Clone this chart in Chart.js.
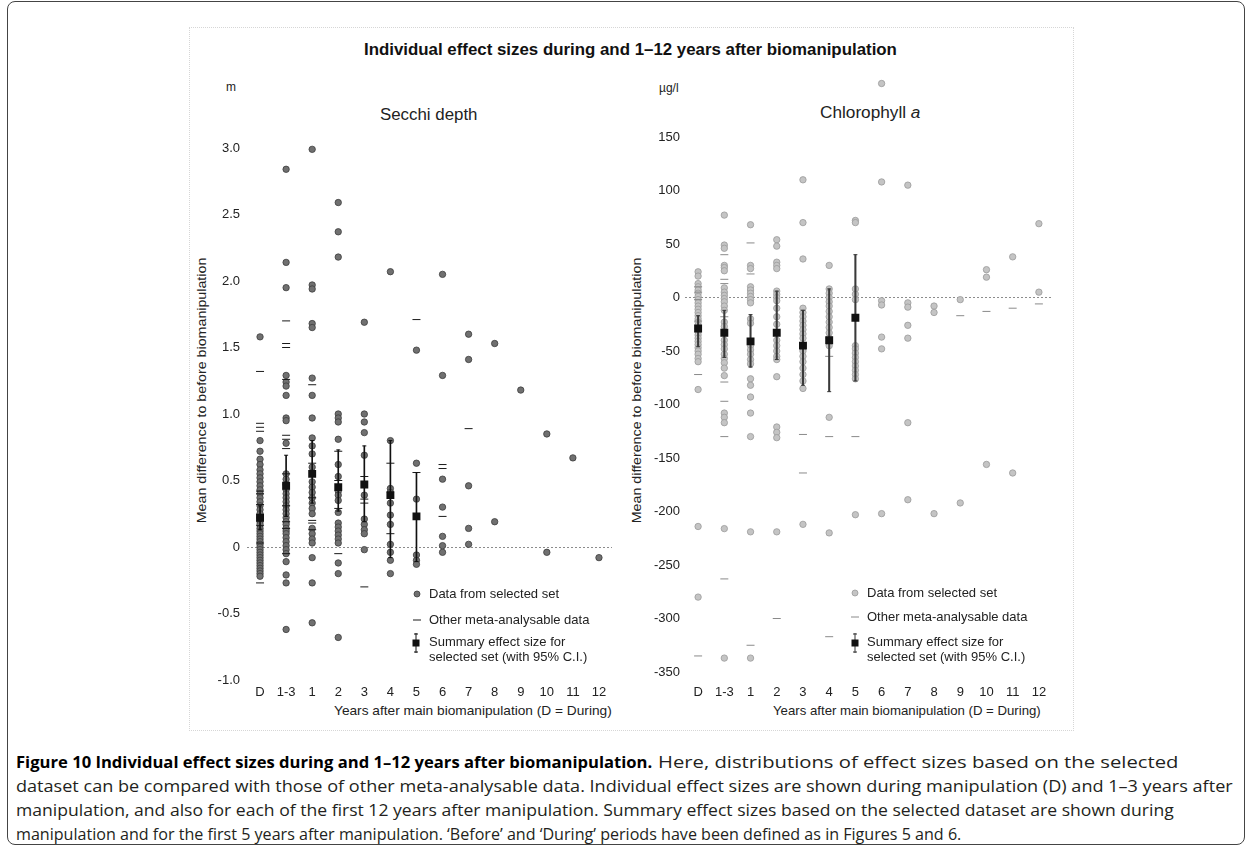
<!DOCTYPE html>
<html>
<head>
<meta charset="utf-8">
<script src="https://cdn.jsdelivr.net/npm/chart.js@4.4.1/dist/chart.umd.min.js"></script>
<style>
  html, body { margin: 0; padding: 0; background: #fff; }
  body { width: 1251px; height: 847px; position: relative; overflow: hidden;
         font-family: "Liberation Sans", Arial, sans-serif; color: #222; }
  .frame { position: absolute; left: 7px; top: 1px; width: 1238px; height: 844px;
           border: 1.5px solid #444; border-radius: 8px; box-sizing: border-box; }
  .inner { position: absolute; left: 189px; top: 27px; width: 885px; height: 704px;
           border: 1px dotted #d6d6d6; box-sizing: border-box; }
  .t { position: absolute; white-space: nowrap; line-height: 1.15; left: 0; top: 0; }
  canvas { position: absolute; }
  .cap { font-family: "Open Sans", "Noto Sans", sans-serif; font-size: 16.5px; color: #231f20; }
  .capb { font-family: "Open Sans", "Noto Sans", sans-serif; font-size: 16.5px; color: #000; font-weight: 700; }
  svg.mk { position: absolute; overflow: visible; }
</style>
</head>
<body>
<div class="frame"></div>
<div class="inner"></div>

<div class="t" id="mainTitle" style="font-size:16px;font-weight:bold;color:#111;">Individual effect sizes during and 1–12 years after biomanipulation</div>

<div class="t" id="unitL" style="font-size:12px;">m</div>
<div class="t" id="unitR" style="font-size:12px;">µg/l</div>
<div class="t" id="titleL" style="font-size:16px;">Secchi depth</div>
<div class="t" id="titleR" style="font-size:16px;">Chlorophyll <i>a</i></div>
<div class="t" id="yTitleL" style="font-size:13px;">Mean difference to before biomanipulation</div>
<div class="t" id="yTitleR" style="font-size:13px;">Mean difference to before biomanipulation</div>
<div class="t" id="xTitleL" style="font-size:13.5px;">Years after main biomanipulation (D = During)</div>
<div class="t" id="xTitleR" style="font-size:13.5px;">Years after main biomanipulation (D = During)</div>

<canvas id="secchi" width="440" height="680" style="left:190px;top:60px;"></canvas>
<canvas id="chl" width="450" height="680" style="left:620px;top:60px;"></canvas>

<!-- legends -->
<div class="t" id="lgL1" style="font-size:13px;">Data from selected set</div>
<div class="t" id="lgL2" style="font-size:13px;">Other meta-analysable data</div>
<div class="t" id="lgL3" style="font-size:13px;">Summary effect size for</div>
<div class="t" id="lgL4" style="font-size:13px;">selected set (with 95% C.I.)</div>
<div class="t" id="lgR1" style="font-size:13px;">Data from selected set</div>
<div class="t" id="lgR2" style="font-size:13px;">Other meta-analysable data</div>
<div class="t" id="lgR3" style="font-size:13px;">Summary effect size for</div>
<div class="t" id="lgR4" style="font-size:13px;">selected set (with 95% C.I.)</div>

<svg class="mk" style="left:413px;top:590px" width="8" height="8"><circle cx="4" cy="4" r="3" fill="#707070" stroke="#3c3c3c" stroke-width="0.8"/></svg>
<svg class="mk" style="left:413px;top:616px" width="8" height="8"><line x1="0" y1="4" x2="8" y2="4" stroke="#1a1a1a" stroke-width="1"/></svg>
<svg class="mk" style="left:411px;top:633px" width="10" height="20"><line x1="5" y1="0" x2="5" y2="20" stroke="#111" stroke-width="1"/><line x1="3" y1="1" x2="7" y2="1" stroke="#111"/><line x1="3" y1="19" x2="7" y2="19" stroke="#111"/><rect x="1.5" y="6.5" width="7" height="7" fill="#111"/></svg>

<svg class="mk" style="left:851px;top:589px" width="8" height="8"><circle cx="4" cy="4" r="3" fill="#c4c4c4" stroke="#9a9a9a" stroke-width="0.8"/></svg>
<svg class="mk" style="left:851px;top:613px" width="8" height="8"><line x1="0" y1="4" x2="8" y2="4" stroke="#8a8a8a" stroke-width="1"/></svg>
<svg class="mk" style="left:850px;top:633px" width="10" height="20"><line x1="5" y1="0" x2="5" y2="20" stroke="#333" stroke-width="1"/><line x1="3" y1="1" x2="7" y2="1" stroke="#333"/><line x1="3" y1="19" x2="7" y2="19" stroke="#333"/><rect x="1.5" y="6.5" width="7" height="7" fill="#111"/></svg>

<!-- caption -->
<div class="t capb" id="cap1b">Figure 10 Individual effect sizes during and 1–12 years after biomanipulation.</div>
<div class="t cap" id="cap1">Here, distributions of effect sizes based on the selected</div>
<div class="t cap" id="cap2">dataset can be compared with those of other meta-analysable data. Individual effect sizes are shown during manipulation (D) and 1–3 years after</div>
<div class="t cap" id="cap3">manipulation, and also for each of the first 12 years after manipulation. Summary effect sizes based on the selected dataset are shown during</div>
<div class="t cap" id="cap4">manipulation and for the first 5 years after manipulation. ‘Before’ and ‘During’ periods have been defined as in Figures 5 and 6.</div>

<script>
// ---- categories: D = during, then years after biomanipulation ----
const categories = ['D', '1-3', '1', '2', '3', '4', '5', '6', '7', '8', '9', '10', '11', '12'];

// ---- Secchi depth (m) ----
const secchiTickLabels = ['-1.0', '-0.5', '0', '0.5', '1.0', '1.5', '2.0', '2.5', '3.0'];
const secchiSelected = [
  [1.58, 0.80, 0.72, 0.66, 0.62, 0.58, 0.55, 0.52, 0.49, 0.46, 0.43, 0.40, 0.37, 0.34, 0.31, 0.28, 0.25, 0.22, 0.19, 0.17, 0.14, 0.12, 0.10, 0.08, 0.06, 0.04, 0.02, 0.00, -0.02, -0.04, -0.06, -0.08, -0.10, -0.12, -0.14, -0.16, -0.18, -0.20, -0.22],
  [2.84, 2.14, 1.95, 1.29, 1.24, 1.21, 1.14, 0.97, 0.95, 0.78, 0.55, 0.51, 0.47, 0.43, 0.40, 0.37, 0.34, 0.31, 0.28, 0.25, 0.22, 0.19, 0.17, 0.14, 0.12, 0.10, 0.07, 0.04, 0.01, -0.02, -0.05, -0.11, -0.21, -0.27, -0.62],
  [2.99, 1.97, 1.94, 1.68, 1.65, 1.27, 1.14, 0.97, 0.82, 0.76, 0.70, 0.60, 0.49, 0.45, 0.41, 0.37, 0.33, 0.29, 0.25, 0.14, 0.10, 0.06, 0.03, -0.08, -0.27, -0.57],
  [2.59, 2.37, 2.18, 1.00, 0.97, 0.94, 0.81, 0.62, 0.53, 0.42, 0.39, 0.35, 0.26, 0.18, 0.15, 0.12, 0.09, 0.06, 0.03, -0.12, -0.20, -0.68],
  [1.69, 1.00, 0.94, 0.86, 0.69, 0.39, 0.21, 0.17, 0.13, 0.10, -0.02],
  [2.07, 0.80, 0.44, 0.41, 0.33, 0.24, 0.17, 0.02, -0.04, -0.10, -0.20],
  [1.48, 0.63, 0.36, -0.06, -0.10, -0.13],
  [2.05, 1.29, 0.51, 0.30, 0.08, 0.01, -0.04],
  [1.60, 1.41, 0.46, 0.14, 0.02],
  [1.53, 0.19],
  [1.18],
  [0.85, -0.04],
  [0.67],
  [-0.08]
];
const secchiOther = [
  [1.32, 0.93, 0.90, 0.87, 0.42, 0.40, 0.32, 0.16, 0.03, -0.27],
  [1.70, 1.53, 1.50, 1.26, 0.84, 0.81, 0.74, 0.55, 0.31, 0.19, 0.14, -0.05],
  [1.22, 0.63, 0.37, 0.20, 0.18, 0.13],
  [0.72, 0.50, 0.29, -0.05],
  [0.53, 0.36, 0.33, -0.30],
  [0.63, 0.10],
  [1.71, 0.56],
  [0.62, 0.59, 0.23],
  [0.89],
  [], [], [], [], []
];
const secchiMean = [0.22, 0.46, 0.55, 0.45, 0.47, 0.39, 0.23];
const secchiLow  = [0.13, 0.23, 0.33, 0.27, 0.19, -0.08, -0.11];
const secchiHigh = [0.31, 0.69, 0.80, 0.73, 0.76, 0.80, 0.56];

// ---- Chlorophyll a (µg/l) ----
const chlTickLabels = ['-350', '-300', '-250', '-200', '-150', '-100', '-50', '0', '50', '100', '150'];
const chlSelected = [
  [24, 20, 13, 10, 7, 4, 1, -2, -5, -8, -11, -14, -17, -20, -23, -26, -29, -32, -35, -38, -41, -44, -47, -50, -53, -57, -60, -86, -214, -280],
  [77, 49, 46, 30, 28, 25, 9, 5, 2, -1, -4, -8, -12, -23, -27, -40, -44, -48, -53, -57, -61, -66, -73, -108, -112, -117, -216, -337],
  [68, 30, 27, 10, 7, 4, 1, -2, -5, -20, -24, -45, -49, -53, -58, -62, -76, -82, -93, -108, -130, -219, -337],
  [54, 48, 33, 30, 27, 6, 3, 0, -3, -10, -18, -25, -40, -45, -50, -55, -58, -74, -121, -126, -131, -219],
  [110, 70, 36, -10, -14, -18, -22, -26, -30, -34, -38, -50, -55, -60, -66, -72, -78, -85, -212],
  [30, 8, 4, 0, -4, -8, -13, -18, -23, -28, -33, -38, -45, -112, -220],
  [72, 70, 8, 3, -2, -45, -48, -52, -56, -60, -64, -68, -72, -76, -203],
  [200, 108, -3, -7, -37, -48, -202],
  [105, -5, -9, -26, -38, -117, -189],
  [-8, -14, -202],
  [-2, -192],
  [26, 19, -156],
  [38, -164],
  [69, 5]
];
const chlOther = [
  [10, 5, -2, -22, -72, -335],
  [40, 17, 13, -18, -79, -97, -130, -263],
  [51, 22, -325],
  [-300],
  [-128, -164],
  [-55, -130, -317],
  [-130],
  [], [],
  [],
  [-17],
  [-13],
  [-10],
  [-6]
];
const chlMean = [-29, -33, -41, -33, -45, -40, -19];
const chlLow  = [-46, -56, -65, -58, -82, -88, -78];
const chlHigh = [-17, -12, -16, 6, -12, 8, 40];

const FONT = '"Liberation Sans", Arial, sans-serif';

function toPoints(groups) {
  const pts = [];
  groups.forEach((vals, i) => vals.forEach(v => pts.push({ x: categories[i], y: v })));
  return pts;
}

function makePanel(canvasId, s) {
  const bars = categories.map((c, i) => i < s.mean.length ? [s.low[i], s.high[i]] : null);
  const squares = s.mean.map((m, i) => ({ x: categories[i], y: m }));
  const caps = [];
  s.mean.forEach((m, i) => { caps.push({ x: categories[i], y: s.low[i] }); caps.push({ x: categories[i], y: s.high[i] }); });

  return new Chart(document.getElementById(canvasId), {
    type: 'bar',
    data: {
      labels: categories,
      datasets: [
        { type: 'line', data: toPoints(s.selected), showLine: false, pointStyle: 'circle',
          pointRadius: 3.2, pointBackgroundColor: s.dotFill, pointBorderColor: s.dotEdge,
          pointBorderWidth: 0.8, clip: false, order: 3 },
        { type: 'line', data: toPoints(s.other), showLine: false, pointStyle: 'line',
          pointRadius: 4, pointBorderColor: s.dashColor, pointBorderWidth: 1, order: 2 },
        { type: 'bar', data: bars, barThickness: s.barWidth, backgroundColor: s.barColor,
          borderWidth: 0, grouped: false, order: 1 },
        { type: 'line', data: caps, showLine: false, pointStyle: 'line',
          pointRadius: 2, pointBorderColor: s.barColor, pointBorderWidth: 1, order: 1 },
        { type: 'line', data: squares, showLine: false, pointStyle: 'rect',
          pointRadius: 5.6, pointBackgroundColor: '#111', pointBorderColor: '#111',
          pointBorderWidth: 0, order: 0 }
      ]
    },
    options: {
      responsive: false,
      animation: false,
      devicePixelRatio: 1,
      events: [],
      layout: { padding: { top: s.padTop, right: 18, left: 0, bottom: 0 } },
      plugins: { legend: { display: false }, tooltip: { enabled: false }, title: { display: false } },
      scales: {
        x: {
          type: 'category', offset: true,
          grid: { display: false, drawTicks: false },
          border: { display: false },
          ticks: { color: '#222', font: { family: FONT, size: 13 }, padding: s.xPad,
                   maxRotation: 0, autoSkip: false },
          afterFit: sc => { sc.height = s.xHeight; }
        },
        y: {
          min: s.min, max: s.max,
          grid: { color: c => (c.tick && c.tick.value === 0) ? '#8c8c8c' : 'rgba(0,0,0,0)',
                  lineWidth: 1, drawTicks: false },
          border: { display: false, dash: [2, 2] },
          ticks: { stepSize: s.step, padding: s.yPad, color: '#222',
                   font: { family: FONT, size: 13 },
                   callback: (v, i) => s.tickLabels[i] },
          afterBuildTicks: sc => { sc.ticks = sc.ticks.filter(t => t.value <= s.topTick); },
          afterFit: sc => { sc.width = s.yWidth; }
        }
      }
    }
  });
}

makePanel('secchi', {
  selected: secchiSelected, other: secchiOther,
  mean: secchiMean, low: secchiLow, high: secchiHigh,
  tickLabels: secchiTickLabels, min: -1, max: 3, step: 0.5, topTick: 3,
  dotFill: '#707070', dotEdge: '#3c3c3c', dashColor: '#1a1a1a',
  barColor: '#111', barWidth: 1,
  padTop: 88, xHeight: 60, xPad: 5, yWidth: 57, yPad: 7
});

makePanel('chl', {
  selected: chlSelected, other: chlOther,
  mean: chlMean, low: chlLow, high: chlHigh,
  tickLabels: chlTickLabels, min: -350, max: 200, step: 50, topTick: 150,
  dotFill: '#c4c4c4', dotEdge: '#9a9a9a', dashColor: '#8a8a8a',
  barColor: '#3a3a3a', barWidth: 1.4,
  padTop: 23.5, xHeight: 68, xPad: 13, yWidth: 65, yPad: 5
});

// ---- text placement ----
function place(id, o) {
  const el = document.getElementById(id);
  const w0 = el.offsetWidth, h0 = el.offsetHeight;
  const k = o.k ? o.k : (o.w ? o.w / w0 : 1);
  if (o.rot) {
    el.style.left = (o.cx - w0 / 2) + 'px';
    el.style.top = (o.cy - h0 / 2) + 'px';
    el.style.transformOrigin = '50% 50%';
    el.style.transform = 'rotate(-90deg) scaleX(' + k + ')';
    return k;
  }
  const w = w0 * k;
  const left = o.left != null ? o.left : (o.cx != null ? o.cx - w / 2 : o.right - w);
  el.style.left = left + 'px';
  el.style.top = (o.cy - h0 / 2) + 'px';
  el.style.transformOrigin = '0 50%';
  el.style.transform = 'scaleX(' + k + ')';
  return k;
}

place('mainTitle', { cx: 630, cy: 50, w: 533 });
place('unitL', { cx: 231, cy: 88 });
place('unitR', { cx: 669, cy: 89 });
place('titleL', { cx: 429, cy: 115, w: 98 });
place('titleR', { cx: 870, cy: 113, w: 100 });
place('yTitleL', { cx: 202, cy: 390, rot: true, w: 266 });
place('yTitleR', { cx: 637, cy: 390, rot: true, w: 266 });
place('xTitleL', { right: 612, cy: 711, w: 278 });
place('xTitleR', { right: 1041, cy: 711, w: 268 });

place('lgL1', { left: 429, cy: 594 });
place('lgL2', { left: 429, cy: 620 });
place('lgL3', { left: 429, cy: 642 });
place('lgL4', { left: 429, cy: 657 });
place('lgR1', { left: 867, cy: 593 });
place('lgR2', { left: 867, cy: 617 });
place('lgR3', { left: 867, cy: 642 });
place('lgR4', { left: 867, cy: 657 });

// caption lines, each fitted to its measured width
place('cap1b', { left: 16, cy: 762, w: 636 });
place('cap1', { left: 658, cy: 762, w: 520 });
place('cap2', { left: 16, cy: 786, w: 1217 });
place('cap3', { left: 16, cy: 810, w: 1158 });
place('cap4', { left: 16, cy: 834, w: 945 });
</script>
</body>
</html>
